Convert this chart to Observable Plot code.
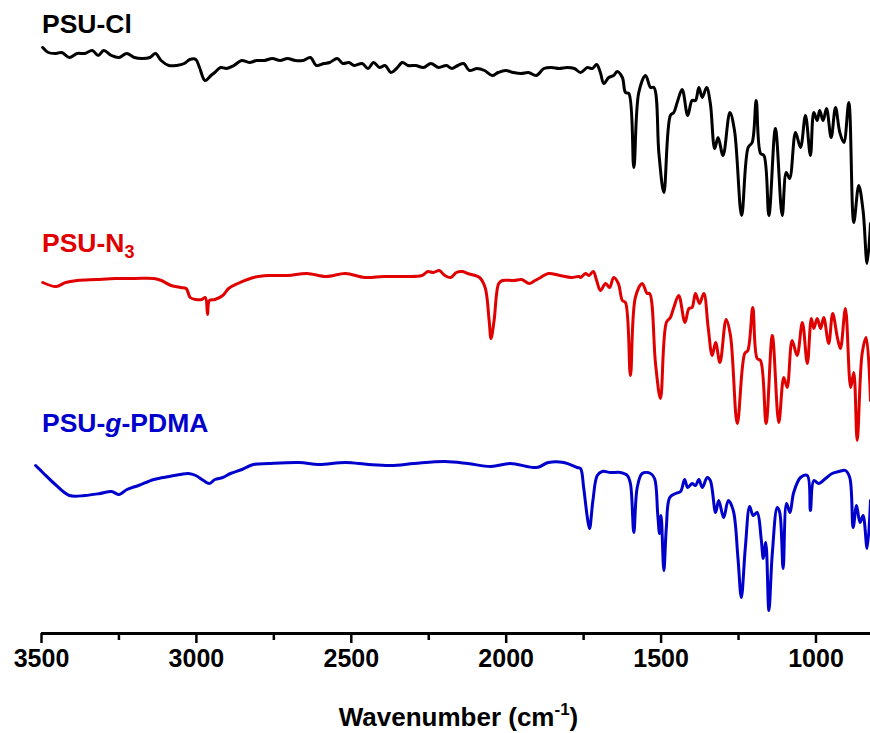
<!DOCTYPE html>
<html><head><meta charset="utf-8">
<script src="https://cdn.jsdelivr.net/npm/d3@7"></script>
<script src="https://cdn.jsdelivr.net/npm/@observablehq/plot@0.6"></script>
<style>body{margin:0;background:#fff}</style>
</head><body><div id="chart"></div>
<script>
// Series (wavenumber in cm-1, transmittance in arbitrary units with vertical offsets)
const seriesNames = ["PSU-Cl", "PSU-N3", "PSU-g-PDMA"];
const seriesColors = ["#000000", "#e00000", "#0000cc"];
const labelLevels = [60.0, 38.1, 20.1];

const clWavenumber = [3496,3478,3453,3435,3410,3385,3361,3336,3317,3299,3274,3250,3225,3200,3175,3150,3132,3114,3089,3064,3039,3021,3002,2990,2972,2953,2941,2922,2903,2879,2854,2829,2805,2780,2755,2730,2706,2681,2656,2632,2613,2588,2570,2545,2527,2508,2490,2465,2446,2428,2409,2391,2372,2354,2335,2317,2292,2267,2243,2218,2193,2175,2156,2137,2119,2094,2070,2045,2026,2002,1977,1952,1928,1903,1878,1853,1829,1804,1780,
  1760,1738,1722,1708,1696,1685,1669,1653,1642,1625,1615,1604,1588,1572,1550,1534,1523,1507,1491,1470,1459,1448,1432,1414,1400,1389,1378,1367,1353,1341,1327,1316,1300,1278,1263,1240,1219,1206,1193,1179,1168,1152,1131,1109,1096,1085,1066,1050,1034,1018,1007,996,988,977,966,951,937,923,910,894,878,862,848,835,824];
const clSignal = [58.6,58.1,58.0,58.1,57.6,58.0,58.0,58.3,57.8,58.3,57.8,57.6,58.0,57.6,57.5,57.6,58.0,57.3,56.8,56.8,57.0,57.4,57.4,56.6,55.3,55.8,56.1,56.6,56.5,56.8,57.3,57.1,57.3,57.3,57.5,57.3,57.5,57.3,57.3,57.6,56.8,57.0,57.1,57.5,57.0,57.1,56.8,57.0,56.5,57.1,56.6,56.8,56.1,56.5,57.1,56.8,56.8,56.6,57.0,56.6,56.8,56.5,56.8,57.0,56.3,56.5,56.3,55.8,56.1,56.3,56.1,56.0,56.1,55.8,56.5,56.6,56.5,56.6,56.5,
  56.1,56.6,56.5,56.9,56.1,55.0,55.6,55.8,56.2,55.6,54.1,54.0,46.6,54.1,55.8,54.6,54.6,48.0,44.1,51.8,52.1,53.1,54.4,51.8,53.3,53.3,54.6,53.6,54.6,53.0,48.5,49.6,47.8,52.1,50.3,41.8,48.6,49.1,53.3,48.0,47.8,41.8,50.5,41.8,46.1,45.5,50.1,48.6,51.8,47.8,52.1,51.3,52.3,51.3,52.5,49.6,52.6,50.1,49.1,53.1,41.1,44.8,42.3,37.0,41.0];

const n3Wavenumber = [3496,3453,3422,3385,3323,3261,3199,3137,3113,3082,3051,3033,3020,3002,2983,2971,2964,2958,2940,2915,2896,2866,2816,2767,2705,2643,2581,2519,2457,2396,2334,2272,2253,2235,2216,2198,2179,2161,2142,2124,2086,2068,2055,2049,2039,2024,2012,1975,1950,1926,1907,1889,1864,1827,1789,1765,
  1760,1744,1733,1719,1708,1696,1679,1666,1653,1638,1625,1615,1599,1583,1561,1545,1537,1518,1502,1483,1470,1459,1443,1423,1410,1400,1389,1376,1362,1348,1335,1324,1310,1290,1276,1254,1230,1220,1204,1190,1179,1161,1141,1120,1104,1093,1077,1061,1044,1028,1015,1007,996,985,975,959,946,931,921,905,888,878,867,851,838,824];
const n3Signal = [35.1,34.7,35.1,35.3,35.4,35.5,35.5,35.5,35.3,34.8,34.6,34.5,33.6,33.4,33.4,33.6,31.9,33.3,33.4,33.8,34.5,35.0,35.6,35.8,35.8,36.0,35.7,36.0,35.6,35.7,35.7,35.8,36.2,36.1,36.3,35.8,35.6,36.1,36.2,36.0,35.6,34.6,31.3,29.5,31.3,35.0,35.3,35.3,35.4,35.0,35.3,35.6,36.0,35.8,35.6,35.7,
  35.6,36.0,35.8,36.2,35.3,34.3,35.0,34.6,35.6,35.0,33.3,33.1,25.8,33.6,35.0,34.0,34.0,27.0,23.5,31.1,31.6,32.6,33.8,31.1,32.5,32.6,34.0,33.0,34.0,30.6,27.8,29.1,27.1,31.4,29.8,21.0,28.0,28.3,32.6,27.5,27.3,21.0,29.8,21.1,25.6,24.6,29.3,27.8,31.1,27.0,31.5,30.5,31.5,30.5,31.6,29.0,32.0,29.6,28.5,32.5,24.6,26.1,19.3,28.0,29.6,23.3];

const pdmaWavenumber = [3519,3496,3459,3410,3360,3311,3274,3249,3224,3187,3137,3088,3051,3026,3002,2977,2958,2940,2915,2890,2853,2816,2767,2668,2606,2519,2445,2371,2297,2198,2124,2049,1987,1901,1864,1814,1771,
  1760,1750,1738,1731,1720,1706,1690,1663,1631,1609,1599,1588,1577,1561,1534,1521,1511,1505,1500,1491,1483,1472,1453,1437,1424,1414,1400,1389,1378,1367,1351,1341,1324,1314,1298,1283,1267,1252,1241,1228,1214,1203,1190,1177,1170,1162,1152,1141,1125,1117,1106,1095,1084,1072,1050,1028,1018,1007,991,969,948,926,905,891,880,869,858,848,835,824];
const pdmaSignal = [16.8,16.1,15.0,13.8,13.8,14.0,14.2,13.9,14.4,14.8,15.4,15.7,15.9,16.0,15.8,15.3,15.0,15.4,15.6,16.0,16.4,16.9,17.0,17.1,16.9,17.1,16.9,16.8,17.0,17.2,17.0,16.7,17.0,16.6,17.1,17.1,16.6,
  16.5,14.6,11.6,10.5,13.3,15.8,16.2,16.1,16.1,15.8,15.0,10.1,14.6,16.0,16.0,15.5,12.0,10.0,11.8,6.3,10.6,13.6,14.0,14.2,15.4,14.6,15.0,14.8,15.4,14.6,15.6,15.3,12.1,13.3,11.6,13.3,12.3,7.6,3.6,8.6,12.7,11.8,12.1,9.5,7.5,9.1,2.3,8.0,12.6,12.1,6.5,13.0,12.1,14.1,15.6,15.8,12.3,15.3,15.0,15.5,16.0,16.2,16.3,15.6,10.6,12.8,11.1,11.8,8.5,13.3];

const xTicks = [3500, 3000, 2500, 2000, 1500, 1000];
const xMinorTicks = [3250, 2750, 2250, 1750, 1250];
const xDomain = [3500, 824];
const xTitle = "Wavenumber (cm";

const allWn = [clWavenumber, n3Wavenumber, pdmaWavenumber];
const allSig = [clSignal, n3Signal, pdmaSignal];
const rows = [];
allWn.forEach((wns, i) => wns.forEach((w, j) => rows.push({series: seriesNames[i], wn: w, v: allSig[i][j]})));

const font = "'Liberation Sans', Arial, Helvetica, sans-serif";

const plot = Plot.plot({
  width: 870,
  height: 733,
  marginLeft: 41,
  marginRight: 0,
  marginTop: 0,
  marginBottom: 100,
  x: {domain: xDomain},
  y: {domain: [0, 63.3], axis: null},
  color: {domain: seriesNames, range: seriesColors},
  style: {fontFamily: font, background: "white", overflow: "visible"},
  marks: [
    Plot.line(rows, {x: "wn", y: "v", z: "series", stroke: "series", strokeWidth: 3, curve: "catmull-rom"}),
    Plot.ruleY([0], {stroke: "#000", strokeWidth: 3}),
    Plot.axisX({ticks: xTicks, tickSize: 10, strokeWidth: 2.5, tickPadding: 6, tickFormat: "d",
      fontSize: 25, fontWeight: "bold", label: null}),
    Plot.axisX({ticks: xMinorTicks, tickSize: 7, strokeWidth: 2.5, tickFormat: () => "", label: null})
  ]
});

const svg = d3.select(plot);
const xs = plot.scale("x"), ys = plot.scale("y");
const lx = xs.apply(3500) + 1;

function addLabel(i, parts) {
  const t = svg.append("text")
    .attr("x", lx).attr("y", ys.apply(labelLevels[i]))
    .attr("text-anchor", "start")
    .attr("fill", seriesColors[i])
    .style("font-family", font).style("font-weight", "bold").style("font-size", "26.5px");
  parts.forEach(p => {
    const s = t.append("tspan").text(p.t);
    if (p.sub) s.attr("font-size", "18px").attr("dy", "6");
    if (p.it) s.attr("font-style", "italic");
  });
}
addLabel(0, [{t: "PSU-Cl"}]);
addLabel(1, [{t: "PSU-N"}, {t: "3", sub: true}]);
addLabel(2, [{t: "PSU-"}, {t: "g", it: true}, {t: "-PDMA"}]);

const title = svg.append("text")
  .attr("x", (xs.range[0] + xs.range[1]) / 2 + 3).attr("y", 726)
  .attr("text-anchor", "middle").attr("fill", "#000")
  .style("font-family", font).style("font-weight", "bold").style("font-size", "26px");
title.append("tspan").text(xTitle);
title.append("tspan").text("-1").attr("font-size", "17px").attr("dy", "-11");
title.append("tspan").text(")").attr("dy", "11");

document.getElementById("chart").appendChild(plot);
</script>
</body></html>
